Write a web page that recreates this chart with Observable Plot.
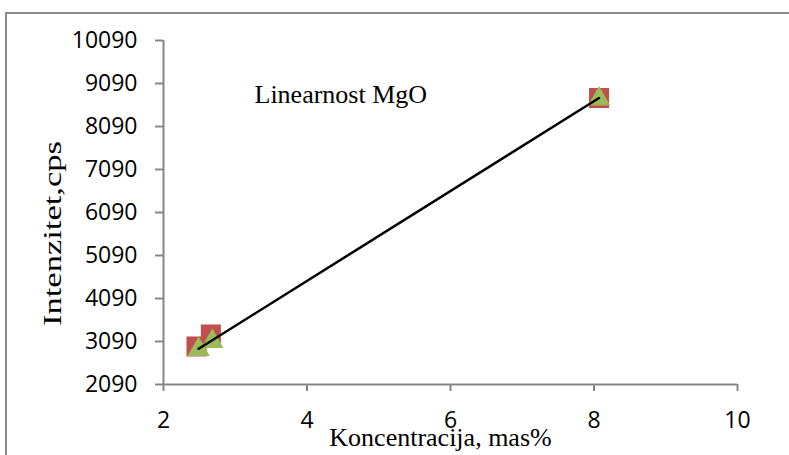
<!DOCTYPE html>
<html><head><meta charset="utf-8">
<script src="https://cdn.jsdelivr.net/npm/d3@7"></script>
<script src="https://cdn.jsdelivr.net/npm/@observablehq/plot@0.6"></script>
<style>
body{margin:0;background:#fff;}
#wrap{position:relative;width:789px;height:455px;overflow:hidden;}
#chart{position:absolute;left:0;top:0;}
#frame{position:absolute;left:5px;top:12px;width:900px;height:600px;border:2px solid #8a8a8a;box-sizing:border-box;pointer-events:none;}
</style></head><body>
<div id="wrap"><div id="chart"></div><div id="frame"></div></div>
<script>
// Data
const concRed = [2.46, 2.66, 8.07];
const intRed = [2974, 3253, 8753];
const concGreen = [2.49, 2.68, 8.07];
const intGreen = [2927, 3113, 8753];
const xTicks = [2, 4, 6, 8, 10];
const yTicks = [2090, 3090, 4090, 5090, 6090, 7090, 8090, 9090, 10090];
const chartTitle = "Linearnost MgO";
const xLabel = "Koncentracija, mas%";
const yLabel = "Intenzitet,cps";

const red = concRed.map((c, i) => ({x: c, y: intRed[i]}));
const green = concGreen.map((c, i) => ({x: c, y: intGreen[i]}));

const axisColor = "#868686";
const tickFont = "Open Sans, sans-serif";
const serif = "Liberation Serif, Times New Roman, serif";

const plot = Plot.plot({
  width: 789,
  height: 455,
  marginLeft: 163,
  marginRight: 52,
  marginTop: 40,
  marginBottom: 71,
  style: {background: "transparent", overflow: "visible"},
  x: {domain: [xTicks[0], xTicks[xTicks.length - 1]]},
  y: {domain: [yTicks[0], yTicks[yTicks.length - 1]]},
  marks: [
    Plot.axisX({ticks: xTicks, tickSize: 7, tickPadding: 20, stroke: axisColor, strokeWidth: 2,
      fontSize: 23, fontFamily: tickFont, fill: "#000", label: null, tickFormat: d => String(d)}),
    Plot.axisY({ticks: yTicks, tickSize: 8, tickPadding: 18, stroke: axisColor, strokeWidth: 2,
      fontSize: 23, fontFamily: tickFont, fill: "#000", label: null, tickFormat: d => String(d)}),
    Plot.ruleY([yTicks[0]], {stroke: axisColor, strokeWidth: 2}),
    Plot.ruleX([xTicks[0]], {stroke: axisColor, strokeWidth: 2}),
    Plot.dot(red, {x: "x", y: "y", symbol: "square", r: 11.3, fill: "#C0504D", stroke: null}),
    Plot.dot(green, {x: "x", y: "y", symbol: "triangle", r: 8.3, fill: "#9BBB59", stroke: null, dy: 1}),
    Plot.linearRegressionY(green, {x: "x", y: "y", ci: 0, stroke: "#000", strokeWidth: 2.5}),
    Plot.text([chartTitle], {frameAnchor: "top-left", textAnchor: "start", lineAnchor: "middle",
      dx: 91, dy: 54, fontSize: 26, fontFamily: serif, fill: "#000"}),
    Plot.text([xLabel], {frameAnchor: "bottom", lineAnchor: "middle", dx: -10, dy: 53,
      fontSize: 26, fontFamily: serif, fill: "#000"}),
    Plot.text([yLabel], {frameAnchor: "left", textAnchor: "middle", lineAnchor: "middle", rotate: -90,
      dx: -111, dy: 21, fontSize: 26, fontFamily: serif, fill: "#000"})
  ]
});
// stretch the y label to the length it has in the reference
d3.select(plot).selectAll("text").filter(function() { return this.textContent === yLabel; })
  .attr("textLength", 185).attr("lengthAdjust", "spacingAndGlyphs");
document.getElementById("chart").appendChild(plot);
</script>
</body></html>
